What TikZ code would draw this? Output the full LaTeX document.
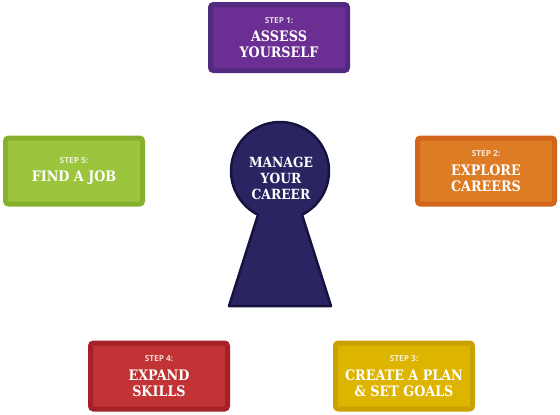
\documentclass[tikz,border=0pt]{standalone}
\usepackage{fontspec}
\usepackage{xcolor}
\usepackage{tikz}
\usetikzlibrary{positioning}
\newfontfamily\slabfont{DejaVu Serif}[FakeStretch=0.88]
\newfontfamily\capfont{Open Sans}
\definecolor{purp}{HTML}{6B2F93}
\definecolor{purpd}{HTML}{512B82}
\definecolor{orng}{HTML}{DE7C26}
\definecolor{orngd}{HTML}{D0651B}
\definecolor{yelw}{HTML}{DDB500}
\definecolor{yelwd}{HTML}{C9A200}
\definecolor{redd}{HTML}{C13335}
\definecolor{reddd}{HTML}{A62127}
\definecolor{grn}{HTML}{9CC43D}
\definecolor{grnd}{HTML}{87B02D}
\definecolor{navy}{HTML}{2A2562}
\definecolor{navyd}{HTML}{15133F}
\newcommand{\steplabel}[2]{{\capfont\bfseries\fontsize{8.3}{9}\selectfont\color{white!80!#1}#2}\\[2.5pt]}

\begin{document}
\begin{tikzpicture}[x=1pt,y=-1pt,
  stepbox/.style={draw,line width=5pt,rounded corners=3pt,minimum width=137pt,minimum height=66pt,
    inner sep=0pt,align=center,text=white,font=\slabfont\bfseries\fontsize{14.5}{16}\selectfont},
  keytext/.style={align=center,text=white,font=\slabfont\bfseries\fontsize{14}{16}\selectfont}]
  \useasboundingbox (0,0) rectangle (560,415);
  \node[stepbox,fill=purp,draw=purpd] (step1) at (279,37.5) {\steplabel{purp}{STEP 1:}ASSESS\\YOURSELF};
  \node[stepbox,fill=orng,draw=orngd] (step2) at (486,171) {\steplabel{orng}{STEP 2:}EXPLORE\\CAREERS};
  \node[stepbox,fill=yelw,draw=yelwd] (step3) at (404,376) {\steplabel{yelw}{STEP 3:}CREATE A PLAN\\\& SET GOALS};
  \node[stepbox,fill=redd,draw=reddd] (step4) at (159,376) {\steplabel{redd}{STEP 4:}EXPAND\\SKILLS};
  \node[stepbox,fill=grn,draw=grnd] (step5) at (74,171) {\steplabel{grn}{STEP 5:}FIND A JOB};
  \draw[fill=navy,draw=navyd,line width=2.5pt,line join=round] (229,306) -- (258,214.8)
    arc[start angle=116.7,end angle=423.3,radius=49] -- (331,306) -- cycle;
  \node[keytext] (key) at (281,178) {MANAGE\\YOUR\\CAREER};
\end{tikzpicture}
\end{document}
